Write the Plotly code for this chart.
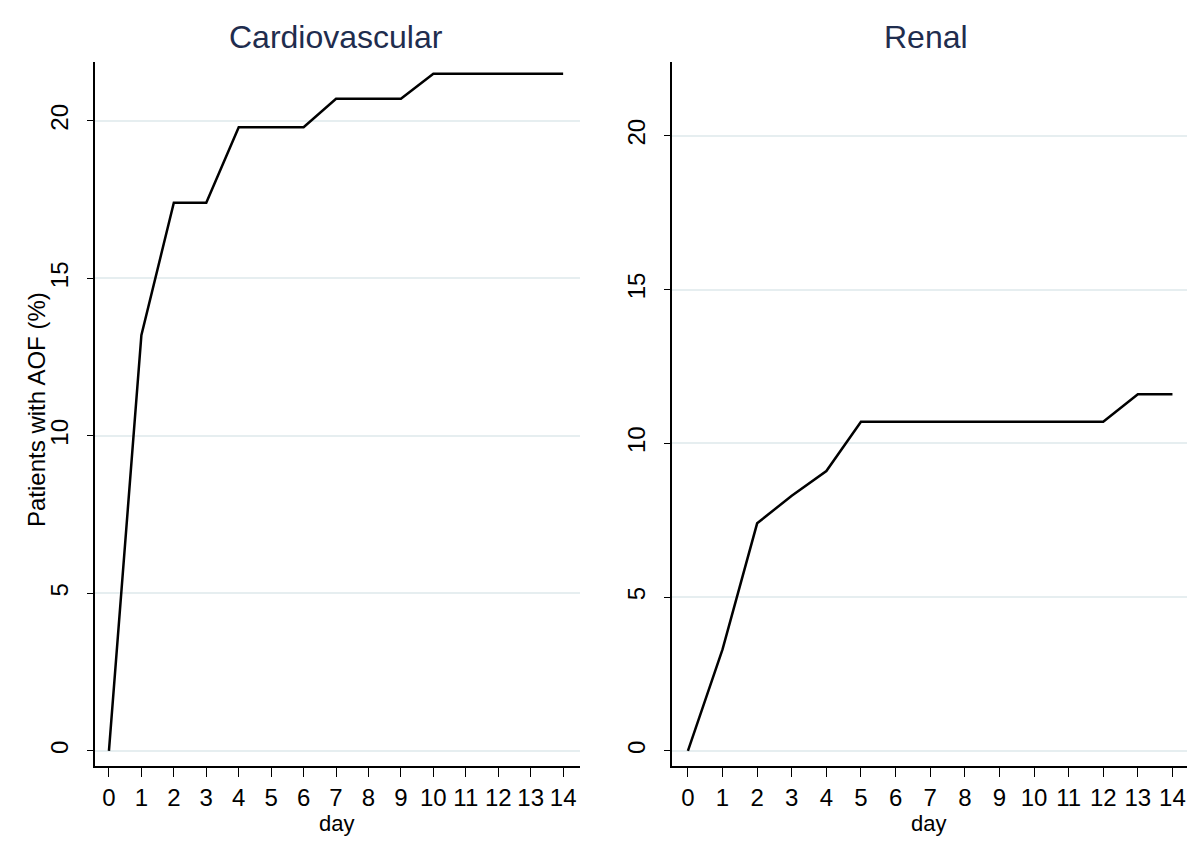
import plotly.graph_objects as go

days = list(range(15))
day_labels = [str(d) for d in days]
cardio_pct = [0, 13.2, 17.4, 17.4, 19.8, 19.8, 19.8, 20.7, 20.7, 20.7, 21.5, 21.5, 21.5, 21.5, 21.5]
renal_pct = [0, 3.3, 7.4, 8.3, 9.1, 10.7, 10.7, 10.7, 10.7, 10.7, 10.7, 10.7, 10.7, 11.6, 11.6]
y_ticks = [0, 5, 10, 15, 20]
panel_titles = ["Cardiovascular", "Renal"]
x_title = "day"
y_title = "Patients with AOF (%)"

FONT = "Liberation Sans, Arial, sans-serif"
GRID = "#e6eef0"
W, H = 1200, 846
OFF = 8  # page body margin offset


def px_x(p):
    return (p - OFF) / W


def px_y(p):
    return 1 - (p - OFF) / H


fig = go.Figure()
fig.add_trace(go.Scatter(x=days, y=cardio_pct, mode="lines",
                         line=dict(color="black", width=2.5), xaxis="x", yaxis="y",
                         showlegend=False))
fig.add_trace(go.Scatter(x=days, y=renal_pct, mode="lines",
                         line=dict(color="black", width=2.5), xaxis="x2", yaxis="y2",
                         showlegend=False))

xcommon = dict(tickmode="array", tickvals=days, ticktext=day_labels,
               showline=True, linecolor="black", linewidth=1.5,
               ticks="outside", ticklen=9, tickcolor="black", tickwidth=1.2,
               showgrid=False, zeroline=False, automargin=False,
               tickfont=dict(family=FONT, size=24, color="black"))
ycommon = dict(tickmode="array", tickvals=y_ticks,
               showline=True, linecolor="black", linewidth=1.5,
               ticks="outside", ticklen=6, tickcolor="black", tickwidth=1.2,
               showgrid=True, gridcolor=GRID, gridwidth=1.5, zeroline=False,
               tickangle=-90, automargin=False, ticklabelstandoff=10,
               tickfont=dict(family=FONT, size=24, color="black"))

title_font = dict(family=FONT, size=32, color="#1f2d4e")
axis_title_font = dict(family=FONT, size=22, color="black")

fig.update_layout(
    template="none",
    width=W, height=H,
    paper_bgcolor="white", plot_bgcolor="white",
    margin=dict(l=0, r=0, t=0, b=0),
    xaxis=dict(domain=[px_x(95), px_x(580)], range=[-0.43, 14.52], anchor="y", **xcommon),
    xaxis2=dict(domain=[px_x(672), px_x(1187)], range=[-0.46, 14.42], anchor="y2", **xcommon),
    yaxis=dict(domain=[px_y(766), px_y(62)], range=[-0.48, 21.87], anchor="x", **ycommon),
    yaxis2=dict(domain=[px_y(766), px_y(62)], range=[-0.49, 22.4], anchor="x2", **ycommon),
    annotations=[
        dict(text=panel_titles[0], x=px_x(336), y=px_y(37), xref="paper", yref="paper",
             xanchor="center", yanchor="middle", showarrow=False, font=title_font),
        dict(text=panel_titles[1], x=px_x(926), y=px_y(37), xref="paper", yref="paper",
             xanchor="center", yanchor="middle", showarrow=False, font=title_font),
        dict(text=x_title, x=px_x(336), y=px_y(823), xref="paper", yref="paper",
             xanchor="center", yanchor="middle", showarrow=False, font=axis_title_font),
        dict(text=x_title, x=px_x(928), y=px_y(823), xref="paper", yref="paper",
             xanchor="center", yanchor="middle", showarrow=False, font=axis_title_font),
        dict(text=y_title, x=px_x(36), y=px_y(410), xref="paper", yref="paper",
             xanchor="center", yanchor="middle", showarrow=False, textangle=-90,
             font=dict(family=FONT, size=24, color="black")),
    ],
)

fig.write_html("out.html")
